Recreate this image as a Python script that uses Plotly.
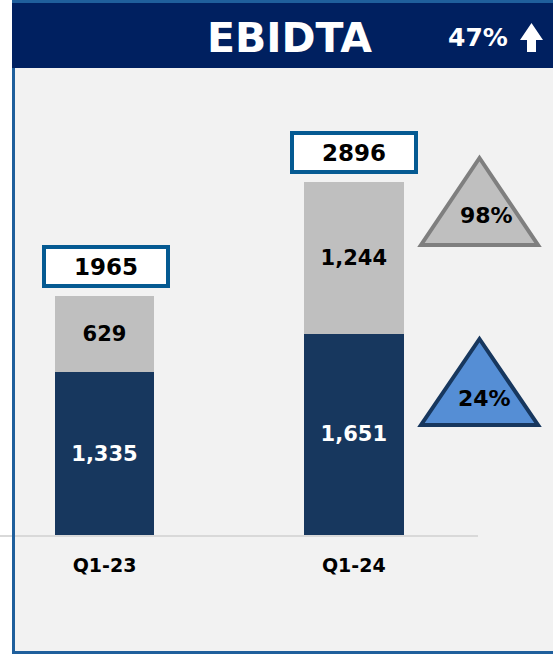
import plotly.graph_objects as go

# ---- data ----
categories = ["Q1-23", "Q1-24"]
base_values = [1335, 1651]      # dark segment
top_values = [629, 1244]        # gray segment
total_labels = ["1965", "2896"]
growth_top = "98%"
growth_base = "24%"
growth_total = "47%"
title_text = "EBIDTA"

W, H = 553, 655
FONT = "DejaVu Sans"
NAVY = "#002060"
DARK = "#17375e"
GRAY = "#bfbfbf"
FRAME = "#1f5f9c"
BOXC = "#055a92"


def px(x):
    return x / W


def py(y):
    return 1 - y / H


xpos = [0, 1]

fig = go.Figure()
fig.add_trace(go.Bar(
    x=xpos, y=base_values, width=0.4, marker=dict(color=DARK, line=dict(width=0)),
    text=[f"{v:,}" for v in base_values], textposition="inside", insidetextanchor="middle",
    textangle=0, constraintext="none",
    textfont=dict(family=FONT, size=21, color="white", weight="bold"),
    hoverinfo="skip", showlegend=False))
fig.add_trace(go.Bar(
    x=xpos, y=top_values, width=0.4, marker=dict(color=GRAY, line=dict(width=0)),
    text=[f"{v:,}" for v in top_values], textposition="inside", insidetextanchor="middle",
    textangle=0, constraintext="none",
    textfont=dict(family=FONT, size=21, color="black", weight="bold"),
    hoverinfo="skip", showlegend=False))

shapes = []
# background panel
shapes.append(dict(type="rect", xref="paper", yref="paper", layer="below",
                   x0=px(13), x1=px(570), y0=py(654), y1=py(2),
                   fillcolor="#f2f2f2", line=dict(width=0)))
# baseline
shapes.append(dict(type="line", xref="paper", yref="paper", layer="below",
                   x0=px(0), x1=px(478), y0=py(536), y1=py(536),
                   line=dict(color="#d9d9d9", width=2)))
# frame
shapes.append(dict(type="rect", xref="paper", yref="paper", layer="above",
                   x0=px(13.5), x1=px(570), y0=py(652.5), y1=py(1.5),
                   fillcolor="rgba(0,0,0,0)", line=dict(color=FRAME, width=3)))
# header
shapes.append(dict(type="rect", xref="paper", yref="paper", layer="above",
                   x0=px(12), x1=px(570), y0=py(68), y1=py(3),
                   fillcolor=NAVY, line=dict(width=0)))
# arrow
arrow_pts = [(531.5, 23), (543, 40), (536, 40), (536, 52), (527, 52), (527, 40), (520, 40)]
path = "M " + " L ".join(f"{px(a)},{py(b)}" for a, b in arrow_pts) + " Z"
shapes.append(dict(type="path", xref="paper", yref="paper", layer="above", path=path,
                   fillcolor="white", line=dict(width=0)))


def tri(apex_y, base_y, fill, line):
    pts = [(479.5, apex_y), (538, base_y), (421, base_y)]
    p = "M " + " L ".join(f"{px(a)},{py(b)}" for a, b in pts) + " Z"
    return dict(type="path", xref="paper", yref="paper", layer="above", path=p,
                fillcolor=fill, line=dict(color=line, width=4))


shapes.append(tri(158, 245, GRAY, "#7f7f7f"))
shapes.append(tri(339, 425, "#558ed5", DARK))

annotations = [
    dict(text=title_text, x=px(289), y=py(38), xref="paper", yref="paper",
         xanchor="center", yanchor="middle", showarrow=False,
         font=dict(family=FONT, size=41, color="white", weight="bold")),
    dict(text=growth_total, x=px(478), y=py(37), xref="paper", yref="paper",
         xanchor="center", yanchor="middle", showarrow=False,
         font=dict(family=FONT, size=25, color="white", weight="bold")),
    dict(text=growth_top, x=px(486), y=py(215), xref="paper", yref="paper",
         xanchor="center", yanchor="middle", showarrow=False,
         font=dict(family=FONT, size=22, color="black", weight="bold")),
    dict(text=growth_base, x=px(484), y=py(398), xref="paper", yref="paper",
         xanchor="center", yanchor="middle", showarrow=False,
         font=dict(family=FONT, size=22, color="black", weight="bold")),
]
for i, lab in enumerate(total_labels):
    annotations.append(dict(
        text=lab, x=xpos[i], y=base_values[i] + top_values[i], xref="x", yref="y",
        xanchor="center", yanchor="bottom", yshift=8, xshift=1 if i == 0 else 0,
        showarrow=False, width=120, height=35, borderwidth=4, borderpad=0,
        bordercolor=BOXC, bgcolor="white",
        font=dict(family=FONT, size=23, color="black", weight="bold")))

fig.update_layout(
    width=W, height=H, margin=dict(l=0, r=0, t=0, b=0, autoexpand=False),
    paper_bgcolor="white", plot_bgcolor="rgba(0,0,0,0)",
    barmode="stack", shapes=shapes, annotations=annotations, showlegend=False,
    xaxis=dict(domain=[px(14), 1], range=[-0.363, 1.799], tickvals=xpos, ticktext=categories,
               showgrid=False, zeroline=False, showline=False, ticks="",
               ticklabelstandoff=17,
               tickfont=dict(family=FONT, size=19, color="black", weight="bold"),
               fixedrange=True),
    yaxis=dict(domain=[py(535), py(68)], range=[0, 3831], visible=False,
               showgrid=False, zeroline=False, fixedrange=True),
)

fig.write_html("out.html", config={"displayModeBar": False},
               post_script="document.body.style.margin='0px';document.body.style.overflow='hidden';")
